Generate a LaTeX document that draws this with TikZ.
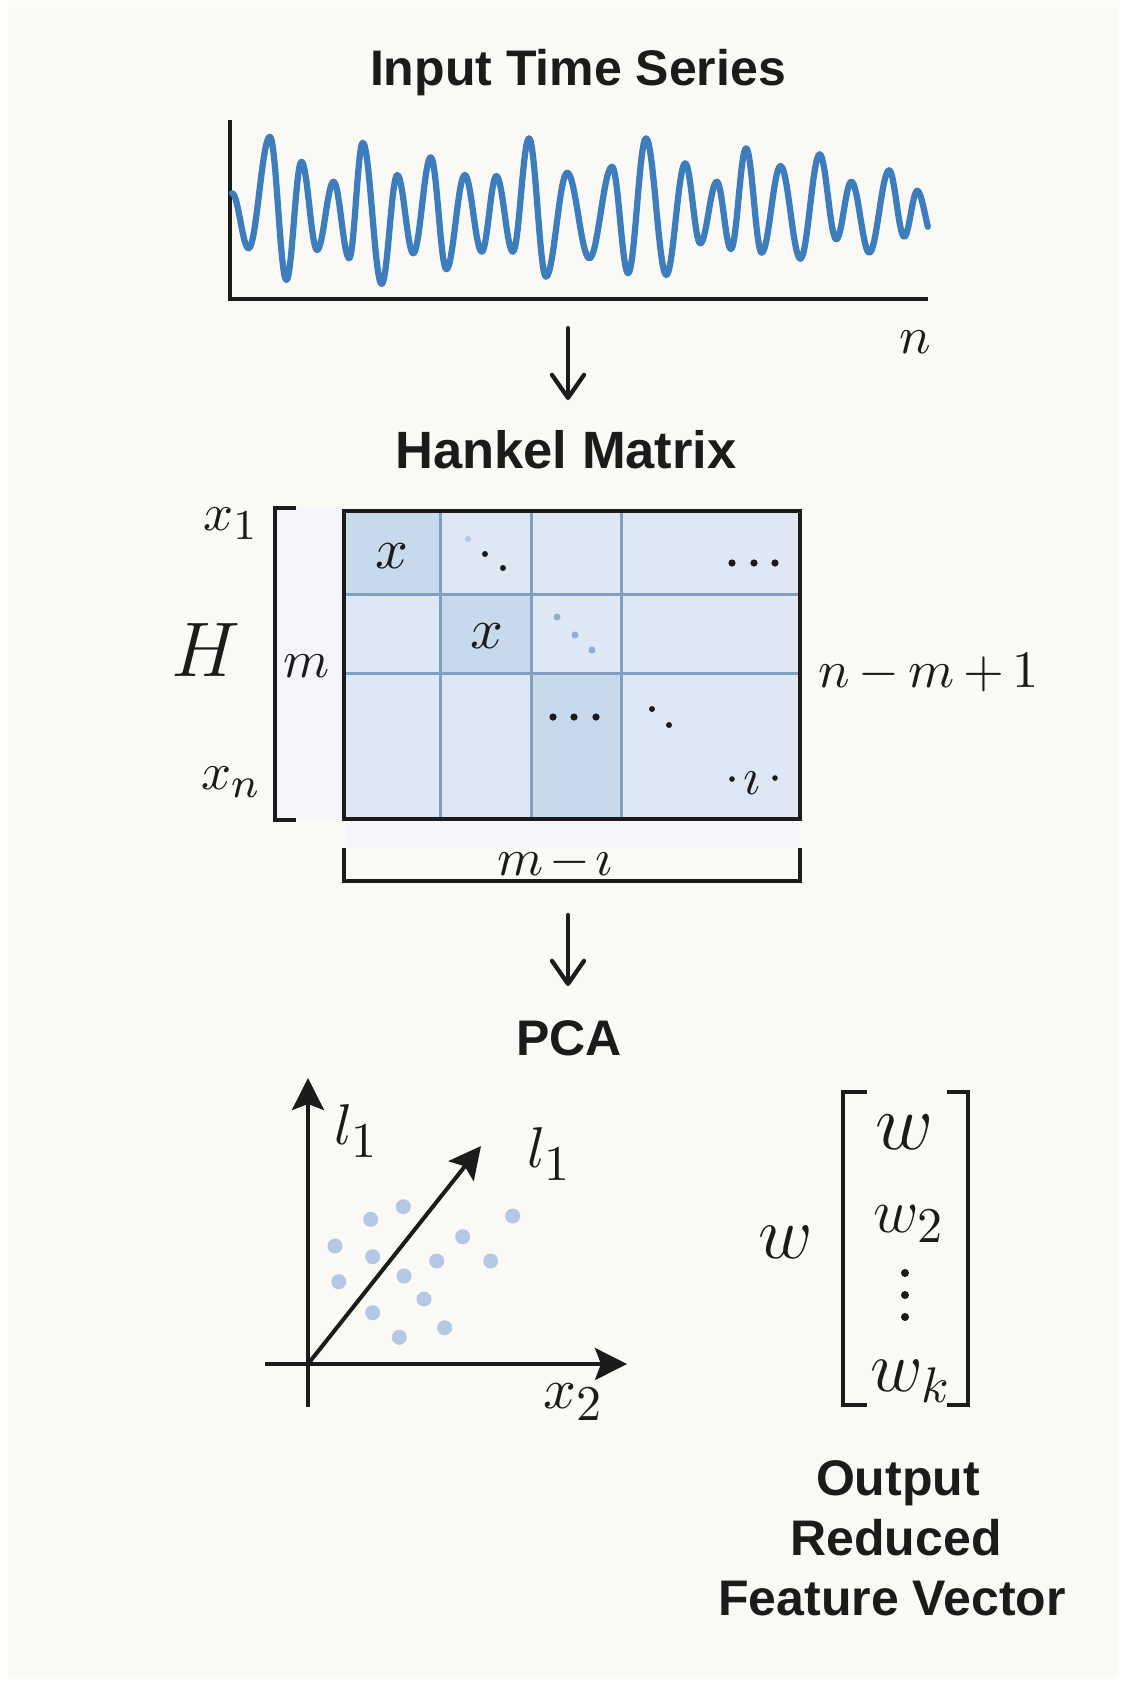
\RequirePackage{fix-cm}
\documentclass[tikz,border=0pt]{standalone}
\usepackage{fontspec}
\setsansfont{Liberation Sans}
\usetikzlibrary{arrows.meta}
\definecolor{bgc}{HTML}{FAF9F5}
\definecolor{bgedge}{HTML}{FDFDFC}
\definecolor{sig}{HTML}{3D7DBE}
\definecolor{cellc}{HTML}{DDE8F4}
\definecolor{celld}{HTML}{C8D9EC}
\definecolor{gridc}{HTML}{809FC0}
\definecolor{dotc}{HTML}{B4C8E5}
\definecolor{dotb}{HTML}{8FAED0}
\definecolor{ink}{HTML}{1B1B1B}
\definecolor{pale}{HTML}{F3F5F8}
\newcommand{\bsub}[2]{\mbox{\fontsize{#1}{#1}\selectfont$#2$}}
\begin{document}
\begin{tikzpicture}[x=0.2pt,y=-0.2pt,
  ttl/.style={font=\fontsize{10}{12}\selectfont\sffamily\bfseries, text=ink, inner sep=0, anchor=base},
  lbl/.style={inner sep=0, text=ink},
  fs/.style={font=\fontsize{#1}{#1}\selectfont},
  flow/.style={ink, line width=0.8pt, line cap=round, -{Straight Barb[length=4.6pt,width=6.4pt,line width=0.85pt,round]}},
  axisarrow/.style={ink, line width=0.8pt, -{Stealth[length=6.4pt,width=6.4pt,inset=1.2pt]}},
  bracketline/.style={ink, line width=0.75pt},
  sdot/.style={fill=dotc, draw=none},
]
% background
\fill[bgedge] (0,0) rectangle (1126,1684);
\fill[bgc] (8,7) rectangle (1118,1677);
\useasboundingbox (0,0) rectangle (1126,1684);

% ---------- Input time series ----------
\node[ttl] (ts) at (578,85) {Input Time Series};
\coordinate (tsTop) at (230,120);
\coordinate (tsO) at (230,299);
\coordinate (tsEnd) at (928,299);
\draw[ink, line width=0.8pt] (tsTop) -- (tsO) -- (tsEnd);
\draw[sig, line width=1.25pt, line join=round, line cap=round] (232.1,193.3)
 .. controls +(6.1,0) and +(-6.1,0) .. (248.6,248.3)
 .. controls +(7.9,0) and +(-7.9,0) .. (269.9,136.7)
 .. controls +(6.1,0) and +(-6.1,0) .. (286.4,280)
 .. controls +(5.6,0) and +(-5.6,0) .. (301.5,161.7)
 .. controls +(5.8,0) and +(-5.8,0) .. (317.1,250)
 .. controls +(6.1,0) and +(-6.1,0) .. (333.6,181.7)
 .. controls +(5.8,0) and +(-5.8,0) .. (349.2,258.3)
 .. controls +(5.0,0) and +(-5.0,0) .. (362.8,142.7)
 .. controls +(7.0,0) and +(-7.0,0) .. (381.7,284)
 .. controls +(5.8,0) and +(-5.8,0) .. (397.3,175)
 .. controls +(5.9,0) and +(-5.9,0) .. (413.3,253.3)
 .. controls +(6.5,0) and +(-6.5,0) .. (430.8,157.3)
 .. controls +(5.8,0) and +(-5.8,0) .. (446.4,269.3)
 .. controls +(6.8,0) and +(-6.8,0) .. (464.8,175)
 .. controls +(6.3,0) and +(-6.3,0) .. (481.8,251.7)
 .. controls +(5.4,0) and +(-5.4,0) .. (496.4,176)
 .. controls +(6.1,0) and +(-6.1,0) .. (512.9,251.7)
 .. controls +(6.0,0) and +(-6.0,0) .. (529,138.3)
 .. controls +(6.3,0) and +(-6.3,0) .. (546,276.7)
 .. controls +(7.8,0) and +(-7.8,0) .. (567.2,172.7)
 .. controls +(8.2,0) and +(-8.2,0) .. (589.4,258.3)
 .. controls +(8.4,0) and +(-8.4,0) .. (612.1,166.7)
 .. controls +(5.9,0) and +(-5.9,0) .. (628.1,273.3)
 .. controls +(6.6,0) and +(-6.6,0) .. (646,138.3)
 .. controls +(7.5,0) and +(-7.5,0) .. (666.3,275)
 .. controls +(7.0,0) and +(-7.0,0) .. (685.2,163.3)
 .. controls +(5.6,0) and +(-5.6,0) .. (700.3,243.3)
 .. controls +(6.1,0) and +(-6.1,0) .. (716.8,181.7)
 .. controls +(5.3,0) and +(-5.3,0) .. (731,249)
 .. controls +(5.6,0) and +(-5.6,0) .. (746.1,148.3)
 .. controls +(5.8,0) and +(-5.8,0) .. (761.7,252.7)
 .. controls +(7.0,0) and +(-7.0,0) .. (780.6,166)
 .. controls +(7.3,0) and +(-7.3,0) .. (800.4,258.7)
 .. controls +(7.1,0) and +(-7.1,0) .. (819.7,154.3)
 .. controls +(6.1,0) and +(-6.1,0) .. (836.3,239.3)
 .. controls +(5.6,0) and +(-5.6,0) .. (851.4,181.7)
 .. controls +(6.6,0) and +(-6.6,0) .. (869.3,252.7)
 .. controls +(7.3,0) and +(-7.3,0) .. (889.1,170.3)
 .. controls +(5.6,0) and +(-5.6,0) .. (904.2,236.7)
 .. controls +(4.9,0) and +(-4.9,0) .. (917.4,190.7)
 .. controls +(3.5,0) and +(-2,-8) .. (927.8,226.7);
\node[lbl, fs=10.5] (nlab) at (915,342) {$n$};

% arrow 1
\coordinate (a1s) at (568,328);
\coordinate (a1e) at (568,400);
\draw[flow] (a1s) -- (a1e);

% ---------- Hankel matrix ----------
\node[ttl, font=\fontsize{10.5}{12}\selectfont\sffamily\bfseries] (hk) at (566,468) {Hankel Matrix};
\fill[pale] (276,508) rectangle (343,820);
\fill[pale] (347,822) rectangle (800,847);
\coordinate (hmNW) at (344,511);
\coordinate (hmSE) at (800,819);
\fill[cellc] (hmNW) rectangle (hmSE);
\fill[celld] (344,511) rectangle (440,594);
\fill[celld] (441,594) rectangle (531,673);
\fill[celld] (531,673) rectangle (621,819);
\draw[gridc, line width=0.6pt] (440,511)--(440,819) (531,511)--(531,819) (621,511)--(621,819)
  (344,594)--(800,594) (344,673)--(800,673);
\draw[ink, line width=0.8pt] (hmNW) rectangle (hmSE);
% cell contents
\node[lbl, fs=11.5] (c11) at (392,556) {$x$};
\node[lbl, fs=11.5] (c22) at (487,636) {$x$};
\fill[dotc] (468,539) circle[radius=3];
\fill[ink] (485,554) circle[radius=3];
\fill[ink] (503,568) circle[radius=3];
\fill[dotb] (557,617) circle[radius=3.5];
\fill[dotb] (575,635) circle[radius=3.5];
\fill[dotb] (592,650) circle[radius=3.5];
\fill[ink] (732,563) circle[radius=3.6];
\fill[ink] (754,563) circle[radius=3.6];
\fill[ink] (775,563) circle[radius=3.6];
\fill[ink] (553,717) circle[radius=3.6];
\fill[ink] (574,717) circle[radius=3.6];
\fill[ink] (596,717) circle[radius=3.6];
\fill[ink] (652,709) circle[radius=3];
\fill[ink] (669,725) circle[radius=3];
\fill[ink] (732,779) circle[radius=2.8];
\fill[ink] (775,778) circle[radius=2.8];
\node[lbl, fs=10.5] (c44) at (752,783) {$\imath$};
% brackets
\draw[bracketline] (296,508) -- (275,508) -- (275,820) -- (296,820);
\draw[bracketline] (344,848) -- (344,881) -- (800,881) -- (800,848);
% labels
\node[lbl, fs=10.5] (x1) at (231,524) {$x_{\bsub{8.5}{1}}$};
\node[lbl, fs=10.5] (xn) at (231,782) {$x_{\bsub{8.5}{n}}$};
\node[lbl, fs=15.5] (H) at (206,650) {$H$};
\node[lbl, fs=10.5] (mlab) at (307,666) {$m$};
\node[lbl, fs=10.5] (nm1) at (929,673) {$n\mkern-1mu-\mkern-1mu m\mkern-1mu+\mkern-1mu 1$};
\node[lbl, fs=10.5] (mi) at (555,862) {$m\mkern-2mu-\mkern-2mu\imath$};

% arrow 2
\coordinate (a2s) at (568,915);
\coordinate (a2e) at (568,986);
\draw[flow] (a2s) -- (a2e);

% ---------- PCA ----------
\node[ttl] (pca) at (569,1055) {PCA};
\coordinate (O) at (308,1364);
\coordinate (yB) at (308,1407);
\coordinate (yT) at (308,1078);
\coordinate (xL) at (265,1364);
\coordinate (xR) at (627,1364);
\coordinate (pc) at (481,1146);
\foreach \px/\py in {403.3/1206.7,370.7/1219.3,335/1246,372.7/1256.7,338.7/1281.7,404/1276,436.7/1261,
  462.7/1236.7,512.7/1216,490.7/1261,424/1299,372.7/1312.7,399.3/1337.3,444.7/1327.7}
  \fill[sdot] (\px,\py) circle[radius=7.5];
\draw[axisarrow] (yB) -- (yT);
\draw[axisarrow] (xL) -- (xR);
\draw[axisarrow] (O) -- (pc);
\node[lbl, fs=11.5] (l1a) at (357,1131) {$l_{\bsub{10}{1}}$};
\node[lbl, fs=11.5] (l1b) at (550,1154) {$l_{\bsub{10}{1}}$};
\node[lbl, fs=11.5] (x2) at (574,1402) {$x_{\bsub{10}{2}}$};

% ---------- Output vector ----------
\node[lbl, fs=15] (wlab) at (786,1242) {$w$};
\draw[bracketline, line width=0.8pt] (867,1092) -- (843,1092) -- (843,1405) -- (867,1405);
\draw[bracketline, line width=0.8pt] (947,1092) -- (968,1092) -- (968,1405) -- (947,1405);
\node[lbl, fs=16] (w1) at (905,1132) {$w$};
\node[lbl, fs=12.5] (w2) at (909,1224) {$w_{\bsub{10}{2}}$};
\fill[ink] (905,1273) circle[radius=4];
\fill[ink] (905,1295) circle[radius=4];
\fill[ink] (905,1317) circle[radius=4];
\node[lbl, fs=14.5] (wk) at (911,1381) {$w_{\bsub{10}{k}}$};

\node[ttl] (o1) at (898,1495) {Output};
\node[ttl] (o2) at (896,1555) {Reduced};
\node[ttl] (o3) at (892,1615) {Feature Vector};
\end{tikzpicture}
\end{document}
